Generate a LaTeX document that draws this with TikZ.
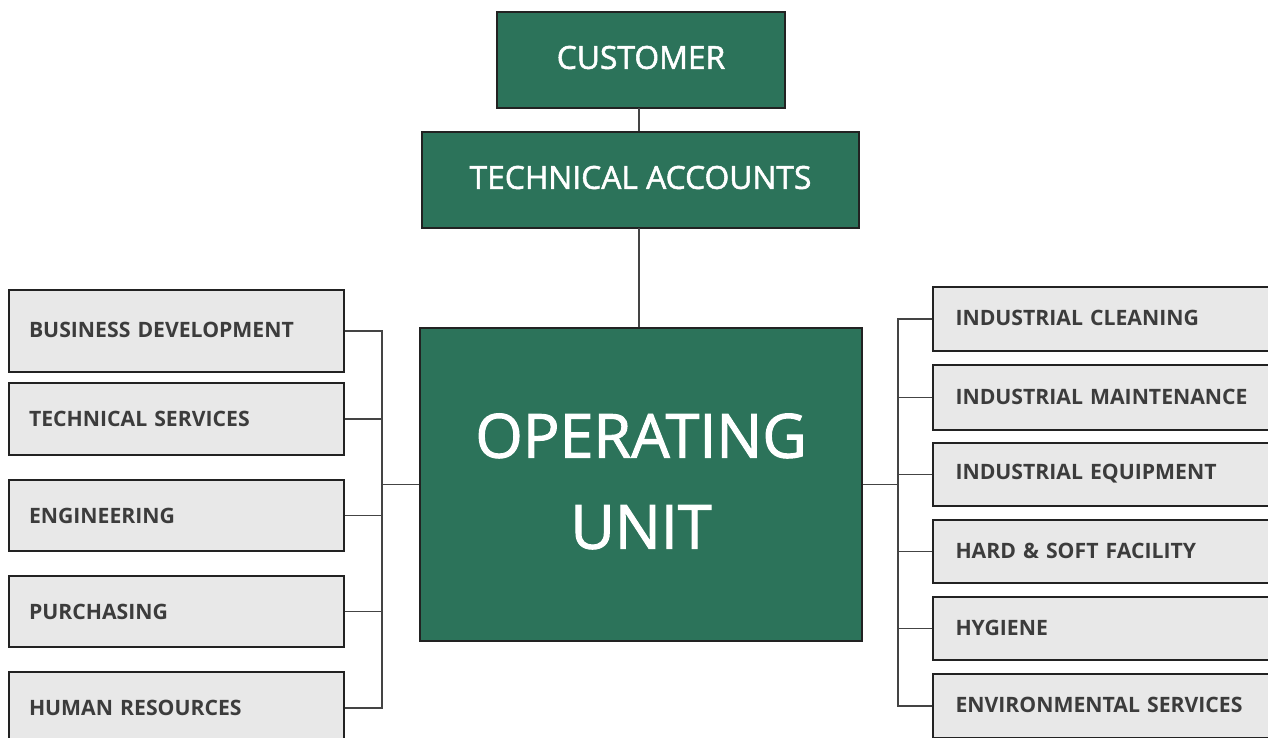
\documentclass[tikz,border=0pt]{standalone}
\usepackage{fontspec}
\setmainfont{Open Sans}
\newfontfamily\sbfont{Open Sans}[FakeBold=1.6]
\definecolor{ogreen}{HTML}{2C735A}
\definecolor{gfill}{HTML}{E8E8E8}
\definecolor{gtext}{HTML}{3C3C3C}
\definecolor{edge}{HTML}{222222}
\definecolor{wire}{HTML}{444444}
\newcommand{\up}[2]{\raisebox{#1}[\height][\depth]{#2}}
\tikzset{
  greenbox/.style={draw=edge, line width=1.5pt, fill=ogreen, text=white, inner sep=0pt, align=center},
  graybox/.style={draw=edge, line width=1.5pt, fill=gfill, text=gtext, font=\fontsize{21.2}{24}\selectfont\bfseries,
    minimum width=335pt, text width=295pt, inner xsep=19pt, inner ysep=0pt, align=left},
  wireline/.style={draw=wire, line width=1.8pt}
}
\begin{document}
\begin{tikzpicture}[x=1pt,y=-1pt]
\clip (0,0) rectangle (1268,737);
\fill[white] (0,0) rectangle (1268,737);
% green boxes
\node[greenbox, minimum width=288pt, minimum height=96pt, font=\sbfont\fontsize{31.8}{36}\selectfont] (cust) at (641,60) {\up{2.5pt}{CUSTOMER}};
\node[greenbox, minimum width=437pt, minimum height=96pt, font=\sbfont\fontsize{31.8}{36}\selectfont] (tech) at (640.5,180) {\up{2.5pt}{TECHNICAL ACCOUNTS}};
\node[greenbox, minimum width=442pt, minimum height=313pt, font=\sbfont\fontsize{61}{91}\selectfont] (ou) at (641,484.5) {\up{-0.5pt}{\begin{tabular}{@{}c@{}}OPERATING\\UNIT\end{tabular}}};
% left boxes
\node[graybox, minimum height=82pt] (bd) at (176.5,331) {\up{1pt}{BUSINESS DEVELOPMENT}};
\node[graybox, minimum height=72pt] (ts) at (176.5,419) {TECHNICAL SERVICES};
\node[graybox, minimum height=71pt] (eng) at (176.5,515.5) {ENGINEERING};
\node[graybox, minimum height=71pt] (pur) at (176.5,611.5) {PURCHASING};
\node[graybox, minimum height=72pt] (hr) at (176.5,708) {HUMAN RESOURCES};
% right boxes
\node[graybox, minimum width=340pt, minimum height=64pt, inner xsep=19.5pt] (ic) at (1103,319) {\up{1pt}{INDUSTRIAL CLEANING}};
\node[graybox, minimum width=340pt, minimum height=65pt, inner xsep=19.5pt] (im) at (1103,397.5) {\up{1pt}{INDUSTRIAL MAINTENANCE}};
\node[graybox, minimum width=340pt, minimum height=63pt, inner xsep=19.5pt] (ie) at (1103,474.5) {\up{1pt}{INDUSTRIAL EQUIPMENT}};
\node[graybox, minimum width=340pt, minimum height=63pt, inner xsep=19.5pt] (hs) at (1103,551.5) {\up{1pt}{HARD \& SOFT FACILITY}};
\node[graybox, minimum width=340pt, minimum height=63pt, inner xsep=19.5pt] (hyg) at (1103,628.5) {\up{1pt}{HYGIENE}};
\node[graybox, minimum width=340pt, minimum height=64pt, inner xsep=19.5pt] (env) at (1103,706) {\up{1pt}{ENVIRONMENTAL SERVICES}};
% junctions
\coordinate (lj) at (382,484.5);
\coordinate (rj) at (898,484.5);
\coordinate (tj1) at (639,108);
\coordinate (tj2) at (639,228);
% connectors
\draw[wireline] (tj1) -- (tj1 |- tech.north);
\draw[wireline] (tj2) -- (tj2 |- ou.north);
\draw[wireline] (lj) -- (ou.west);
\draw[wireline] (ou.east) -- (rj);
\foreach \n in {bd,ts,eng,pur,hr}{\draw[wireline] (\n.east) -| (lj);}
\foreach \n in {ic,im,ie,hs,hyg,env}{\draw[wireline] (\n.west) -| (rj);}
\end{tikzpicture}
\end{document}
